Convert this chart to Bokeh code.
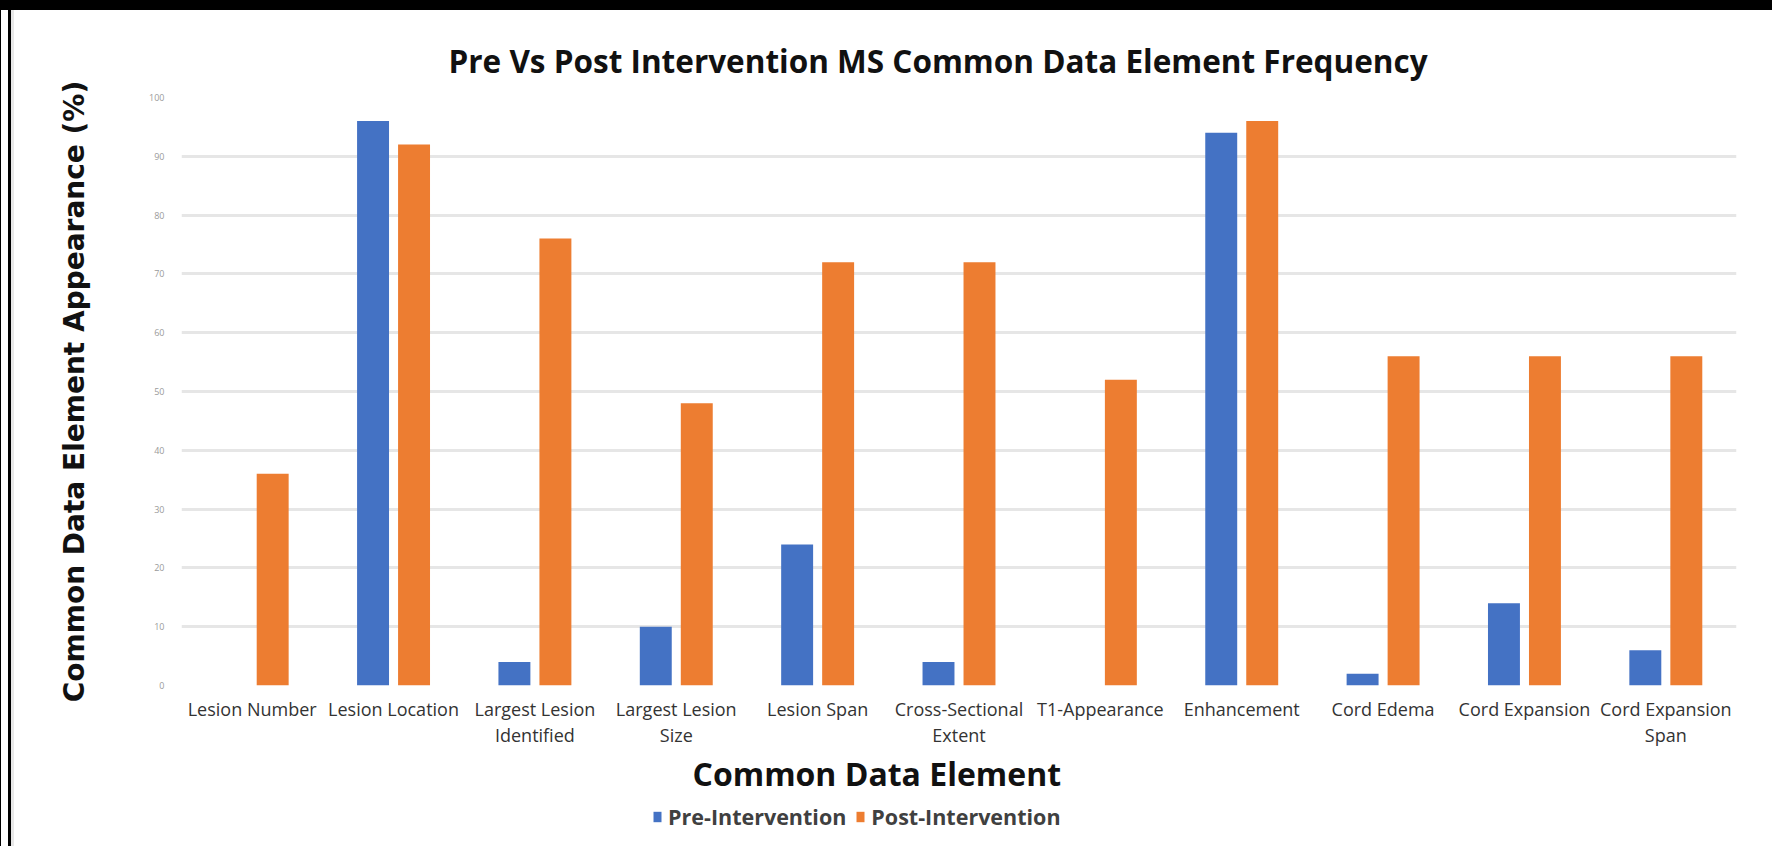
from bokeh.plotting import figure
from bokeh.layouts import column
from bokeh.models import FactorRange, Range1d, FixedTicker, Legend, LegendItem, ColumnDataSource
from bokeh.transform import dodge
from bokeh.embed import file_html
from bokeh.resources import INLINE

# ---- data ----
categories = [
    "Lesion Number", "Lesion Location", "Largest Lesion\nIdentified",
    "Largest Lesion\nSize", "Lesion Span", "Cross-Sectional\nExtent",
    "T1-Appearance", "Enhancement", "Cord Edema", "Cord Expansion",
    "Cord Expansion\nSpan",
]
pre_intervention = [0, 96, 4, 10, 24, 4, 0, 94, 2, 14, 6]
post_intervention = [36, 92, 76, 48, 72, 72, 52, 96, 56, 56, 56]
series_names = ["Pre-Intervention", "Post-Intervention"]
series_colors = ["#4472C4", "#ED7D31"]
y_ticks = [0, 10, 20, 30, 40, 50, 60, 70, 80, 90, 100]

title_text = "Pre Vs Post Intervention MS Common Data Element Frequency"
x_label = "Common Data Element"
y_label = "Common Data Element Appearance (%)"

src = ColumnDataSource(dict(cat=categories, pre=pre_intervention, post=post_intervention))

# ---------------- main chart ----------------
p = figure(
    x_range=FactorRange(*categories), y_range=Range1d(0, 100),
    width=1756, height=739, output_backend="svg", toolbar_location=None,
    min_border_left=167, min_border_right=34, min_border_top=87, min_border_bottom=59,
)
p.outline_line_color = None
p.background_fill_color = "white"
p.border_fill_color = "white"

bar_w = 0.226
p.vbar(x=dodge("cat", -0.145, range=p.x_range), top="pre", width=bar_w,
       source=src, fill_color=series_colors[0], line_color=None)
p.vbar(x=dodge("cat", 0.145, range=p.x_range), top="post", width=bar_w,
       source=src, fill_color=series_colors[1], line_color=None)

p.title.text = title_text
p.title.align = "left"
p.title.offset = 267
p.title.text_font = "Open Sans"
p.title.text_font_style = "bold"
p.title.text_font_size = "31.5px"
p.title.text_color = "#111111"
p.title.standoff = 32

p.xgrid.grid_line_color = None
p.ygrid.grid_line_color = "#e6e6e6"
p.ygrid.grid_line_width = 3
p.ygrid.ticker = FixedTicker(ticks=y_ticks)

p.yaxis.ticker = FixedTicker(ticks=y_ticks)
p.yaxis.axis_line_color = None
p.yaxis.major_tick_line_color = None
p.yaxis.minor_tick_line_color = None
p.yaxis.major_label_text_font = "Open Sans"
p.yaxis.major_label_text_font_size = "9px"
p.yaxis.major_label_text_color = "#9a9a9a"
p.yaxis.major_label_standoff = 11
p.yaxis.axis_label = y_label
p.yaxis.axis_label_text_font = "DejaVu Sans"
p.yaxis.axis_label_text_font_style = "bold"
p.yaxis.axis_label_text_font_size = "28px"
p.yaxis.axis_label_text_color = "#111111"
p.yaxis.axis_label_standoff = 55

p.xaxis.axis_line_color = None
p.xaxis.major_tick_line_color = None
p.xaxis.minor_tick_line_color = None
p.xaxis.major_label_text_font = "Open Sans"
p.xaxis.major_label_text_font_size = "18px"
p.xaxis.major_label_text_color = "#333333"
p.xaxis.major_label_text_line_height = 1.1
p.xaxis.major_label_standoff = 5
p.xaxis.major_label_orientation = "horizontal"

# ---------------- strip below: x-axis title and legend ----------------
p2 = figure(
    x_range=p.x_range, y_range=Range1d(0, 100),
    width=1756, height=95, output_backend="svg", toolbar_location=None,
    x_axis_location=None, y_axis_location=None,
    min_border_left=0, min_border_right=0, min_border_top=0, min_border_bottom=0,
)
p2.outline_line_color = None
p2.grid.visible = False
p2.background_fill_color = "white"
p2.border_fill_color = "white"
p2.title.text = x_label
p2.title.align = "left"
p2.title.offset = 511
p2.title.text_font = "Open Sans"
p2.title.text_font_style = "bold"
p2.title.text_font_size = "32px"
p2.title.text_color = "#111111"
p2.title.standoff = 0

k1 = p2.vbar(x=dodge("cat", -0.145, range=p2.x_range), top="pre", width=bar_w,
             source=src, fill_color=series_colors[0], line_color=None, visible=False)
k2 = p2.vbar(x=dodge("cat", 0.145, range=p2.x_range), top="post", width=bar_w,
             source=src, fill_color=series_colors[1], line_color=None, visible=False)

legend = Legend(
    items=[LegendItem(label=series_names[0], renderers=[k1]),
           LegendItem(label=series_names[1], renderers=[k2])],
    orientation="horizontal", location=(471, 13),
    glyph_width=10, glyph_height=13, label_standoff=6, spacing=9,
    padding=0, margin=0, border_line_color=None, background_fill_alpha=0,
    inactive_fill_alpha=0,
    label_text_font="Open Sans", label_text_font_style="bold",
    label_text_font_size="21.5px", label_text_color="#404040",
)
p2.add_layout(legend)

layout = column(p, p2, spacing=0)

html = file_html(layout, INLINE, title=title_text)
style = (
    "<style>html,body{margin:0;padding:0;}"
    "html{background:#fff;}"
    "body{padding:10px 0 0 14px;overflow:hidden;"
    "background:linear-gradient(#000,#000) top left/100% 10px no-repeat,"
    "linear-gradient(to right,#000 0px,#000 1px,transparent 1px,transparent 8px,#000 8px,#000 11px,#e8e8e8 11px,#e8e8e8 14px,transparent 14px) top left/14px 100% no-repeat;}"
    "</style></head>"
)
html = html.replace("</head>", style, 1)
open("out.html", "w").write(html)
